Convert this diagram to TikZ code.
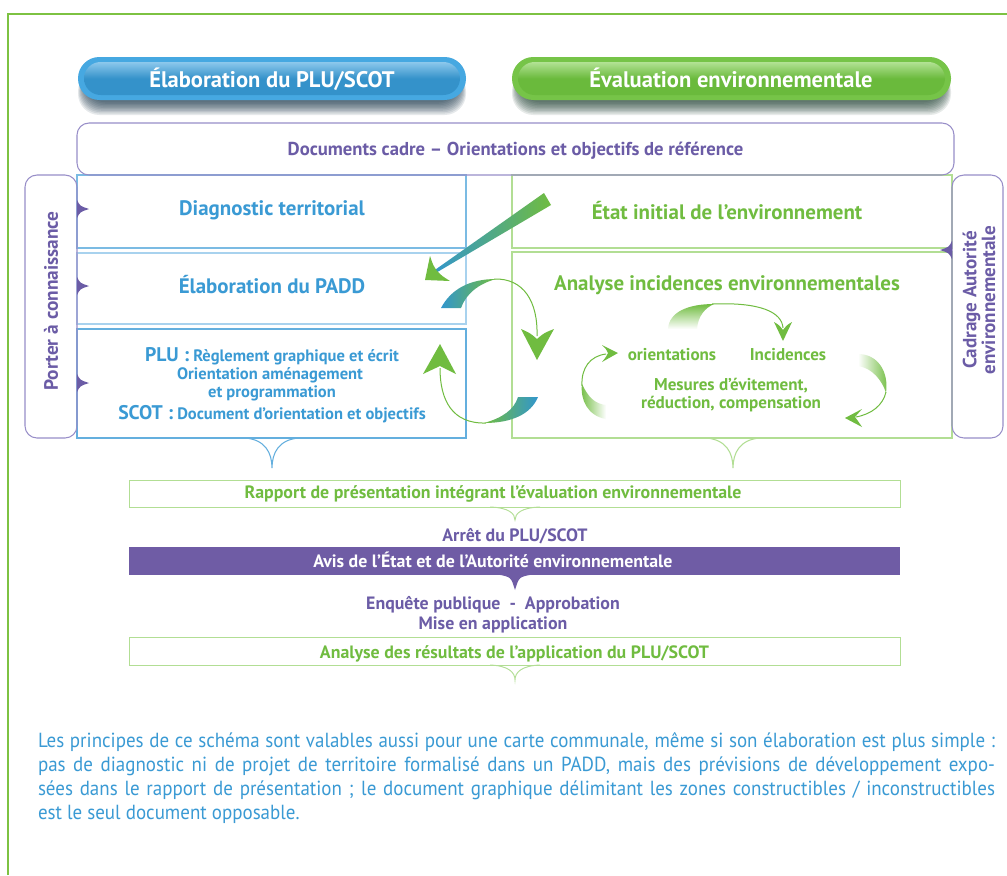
\documentclass[tikz,border=0pt]{standalone}
\usepackage{fontspec}
\setmainfont{PT Sans}
\newfontfamily\notefont[FakeStretch=0.93]{PT Sans}
\usetikzlibrary{calc}
\definecolor{cblue}{RGB}{58,154,212}
\definecolor{cgreen}{RGB}{112,188,64}
\definecolor{cpurple}{RGB}{107,92,166}
\definecolor{bandpurple}{RGB}{111,92,165}
\definecolor{lpurple}{RGB}{152,142,200}
\definecolor{lblue}{RGB}{100,175,222}
\definecolor{llblue}{RGB}{168,210,238}
\definecolor{lgreen}{RGB}{178,222,148}
\definecolor{framegreen}{RGB}{125,194,66}
\definecolor{arrowblue}{RGB}{50,150,205}
\definecolor{pillblue}{RGB}{70,168,225}
\definecolor{pillbluelight}{RGB}{140,200,236}
\definecolor{pillbluedark}{RGB}{52,146,202}
\definecolor{pillgreen}{RGB}{118,196,72}
\definecolor{pillgreenlight}{RGB}{178,226,148}
\definecolor{pillgreendark}{RGB}{106,186,60}
\definecolor{shadowblue}{RGB}{15,45,65}
\definecolor{shadowgreen}{RGB}{20,55,40}

\newcommand\notchR[2]{\fill[cpurple] (#1,{#2-9}) .. controls ({#1+3},{#2-3}) .. ({#1+12},#2) .. controls ({#1+3},{#2+3}) .. (#1,{#2+9}) -- cycle;}
\newcommand\notchL[2]{\fill[cpurple] (#1,{#2-9}) .. controls ({#1-3},{#2-3}) .. ({#1-12},#2) .. controls ({#1-3},{#2+3}) .. (#1,{#2+9}) -- cycle;}
\newcommand\mybrace[5]{\draw[#5] ({#1-#3},#2) .. controls ({#1-#3*0.25},{#2+#4*0.05}) and (#1,{#2+#4*0.5}) .. (#1,{#2+#4}) .. controls (#1,{#2+#4*0.5}) and ({#1+#3*0.25},{#2+#4*0.05}) .. ({#1+#3},#2);}
\newcommand\jline[1]{\makebox[717.75pt][s]{#1}}

\begin{document}
\begin{tikzpicture}[x=0.75pt,y=-0.75pt,
  every node/.style={inner sep=0pt,outer sep=0pt},
  hdr/.style={text=white,font=\bfseries\fontsize{16.9}{19}\selectfont,anchor=base},
  ttl/.style={font=\bfseries\fontsize{15.7}{18}\selectfont,anchor=base},
  inner/.style={font=\bfseries\fontsize{12.8}{14}\selectfont,anchor=base},
  mid/.style={font=\bfseries\fontsize{13.4}{15}\selectfont,anchor=base},
  plusmall/.style={anchor=base,text=cblue,font=\bfseries\fontsize{12.4}{14}\selectfont},
  noteline/.style={anchor=base west,text=cblue,font=\notefont\fontsize{15.3}{18}\selectfont},
  thin/.style={line width=0.75pt},
  box/.style={draw,line width=0.8pt,rectangle}]
\useasboundingbox (0,0) rectangle (1007,875);
\fill[white] (0,0) rectangle (1007,875);
\draw[framegreen,line width=1pt] (8,875) -- (8,14) -- (1007,14);

% pill shadows
\foreach \i in {1,...,10}{
  \fill[shadowblue,opacity=0.1,rounded corners=16pt] ({86-\i*0.8},70) rectangle ({458+\i*0.8},{101+\i*1.4});
  \fill[shadowgreen,opacity=0.1,rounded corners=16pt] ({520-\i*0.8},70) rectangle ({943+\i*0.8},{101+\i*1.4});
}
% pills
\fill[pillblue,rounded corners=16pt] (78,57) rectangle (466,100);
\shade[top color=pillbluelight,bottom color=pillbluedark,middle color=pillbluedark,rounded corners=12.5pt] (84,62) rectangle (460,95);
\node[hdr] (hElab) at (272,87) {Élaboration du PLU/SCOT};
\fill[pillgreen,rounded corners=16pt] (512,57) rectangle (951,100);
\shade[top color=pillgreenlight,bottom color=pillgreendark,middle color=pillgreendark,rounded corners=12.5pt] (518,62) rectangle (945,95);
\node[hdr] (hEval) at (731,87) {Évaluation environnementale};

% column boxes
\node[box,draw=lblue!85,minimum width=389*0.75pt,minimum height=73*0.75pt] (diag) at (271.5,211.5) {};
\node[box,draw=llblue,line width=1.3pt,minimum width=389*0.75pt,minimum height=71*0.75pt] (padd) at (271.5,288.5) {};
\node[box,draw=lblue,minimum width=389*0.75pt,minimum height=109*0.75pt] (plu) at (271.5,383.5) {};
\node[box,draw=lgreen,minimum width=440*0.75pt,minimum height=73*0.75pt] (etat) at (732,211.5) {};
\node[box,draw=lgreen,minimum width=440*0.75pt,minimum height=186*0.75pt] (anal) at (732,345) {};

% side boxes and cadre
\node[box,draw=lpurple,rounded corners=9pt,minimum width=52*0.75pt,minimum height=263*0.75pt] (pac) at (51,306.5) {};
\node[box,draw=lpurple,rounded corners=9pt,minimum width=51*0.75pt,minimum height=263*0.75pt] (cae) at (977.5,306.5) {};
\node[box,draw=lpurple,rounded corners=9pt,minimum width=877*0.75pt,minimum height=52*0.75pt] (cadre) at (515.5,149) {};
\node[anchor=base,text=cpurple,font=\bfseries\fontsize{14}{16}\selectfont] (tcadre) at (515.5,155) {Documents cadre – Orientations et objectifs de référence};

\node[rotate=90,text=cpurple,font=\bfseries\fontsize{14.5}{16}\selectfont] (tpac) at (51,301) {Porter à connaissance};
\node[rotate=90,text=cpurple,align=center,font=\bfseries\fontsize{14.3}{11.5}\selectfont] (tcae) at (979,300) {Cadrage Autorité\\environnementale};

% notches
\notchR{77}{209}
\notchR{77}{286}
\notchR{77}{383}
\notchL{952}{250}

% column texts
\node[ttl,text=cblue] (tdiag) at (272,215) {Diagnostic territorial};
\node[ttl,text=cblue] (tpadd) at (272,293) {Élaboration du PADD};
\node[plusmall] (tplu1) at (272,361) {{\fontsize{14.8}{16}\selectfont PLU :} Règlement graphique et écrit};
\node[plusmall] (tplu2) at (270,379) {Orientation aménagement};
\node[plusmall] (tplu3) at (272,397) {et programmation};
\node[plusmall] (tplu4) at (272,419) {{\fontsize{14.8}{16}\selectfont SCOT :} Document d’orientation et objectifs};

\node[ttl,text=cgreen] (tetat) at (727,219) {État initial de l’environnement};
\node[ttl,text=cgreen] (tanal) at (727,290) {Analyse incidences environnementales};
\node[inner,text=cgreen] (tori) at (672,360) {orientations};
\node[inner,text=cgreen] (tinc) at (788,360) {Incidences};
\node[inner,text=cgreen] (tmes1) at (731,390) {Mesures d’évitement,};
\node[inner,text=cgreen] (tmes2) at (731,408) {réduction, compensation};

% big middle arrows
\shade[left color=arrowblue,right color=cgreen] (432,272) -- (544,193) -- (551,205) -- (434,274) -- cycle;
\fill[cgreen] (425,280) -- (430,256) .. controls (433,265) .. (437,271) .. controls (442,276) .. (450,281) -- cycle;

\shade[left color=arrowblue,right color=cgreen] (441,308) .. controls (451,289) and (470,279) .. (496,279) .. controls (478,284) and (466,294) .. (461,308) -- cycle;
\draw[cgreen,thin] (494,279) .. controls (524,278) and (538,302) .. (537,336);
\fill[cgreen] (537,360) -- (521,329) .. controls (530,333) .. (537,339) .. controls (544,333) .. (554,329) -- cycle;

\shade[left color=cgreen,right color=arrowblue] (538,397) .. controls (531,414) and (512,423) .. (484,423) .. controls (502,418) and (514,410) .. (518,397) -- cycle;
\draw[cgreen,thin] (486,423) .. controls (452,424) and (440,400) .. (440,368);
\fill[cgreen] (440,344) -- (456,374) .. controls (448,370) .. (440,366) .. controls (432,370) .. (423,374) -- cycle;

% inner cycle arrows
\shade[top color=cgreen,bottom color=white] (668,329) .. controls (669,312) and (688,304) .. (714,304) .. controls (705,308) and (698,316) .. (697,329) -- cycle;
\draw[cgreen,thin] (712,304) .. controls (760,302) and (782,312) .. (783,328);
\fill[cgreen] (783,341) -- (774,322) .. controls (779,325) .. (783,330) .. controls (787,325) .. (792,322) -- cycle;

\shade[left color=white,right color=cgreen] (858,354) .. controls (878,354) and (889,372) .. (886,393) .. controls (882,380) and (872,368) .. (858,366) -- cycle;
\draw[cgreen,thin] (886,392) .. controls (883,405) and (872,414) .. (856,417);
\fill[cgreen] (845,418) -- (862,409) .. controls (858,413) .. (855,417) .. controls (858,421) .. (862,427) -- cycle;

\shade[left color=cgreen,right color=white] (606,419) .. controls (588,416) and (580,400) .. (582,384) .. controls (588,397) and (595,404) .. (606,405) -- cycle;
\draw[cgreen,thin] (582,386) .. controls (581,368) and (590,356) .. (606,354);
\fill[cgreen] (618,353) -- (602,345) .. controls (606,349) .. (608,353) .. controls (606,357) .. (602,362) -- cycle;

% braces under columns
\mybrace{272}{438}{27}{30}{lblue,line width=0.8pt}
\mybrace{733}{438}{27}{30}{lgreen,line width=0.8pt}

% lower part
\node[box,draw=lgreen,line width=0.7pt,minimum width=771*0.75pt,minimum height=27*0.75pt] (rapport) at (514.5,493.5) {};
\node[mid,text=cgreen] (trapport) at (493,498) {Rapport de présentation intégrant l’évaluation environnementale};
\mybrace{515}{507}{25}{13}{lgreen,line width=0.7pt}
\node[mid,text=cpurple] (tarret) at (515,541) {Arrêt du PLU/SCOT};
\node[rectangle,fill=bandpurple,minimum width=771*0.75pt,minimum height=28*0.75pt] (avis) at (514.5,561) {};
\node[mid,text=white] (tavis) at (493,567) {Avis de l’État et de l’Autorité environnementale};
\fill[bandpurple] (498,574.5) .. controls (511,577) .. (515,590) .. controls (519,577) .. (532,574.5) -- cycle;
\node[mid,text=cpurple] (tenq) at (493,609) {Enquête publique \ - \ Approbation};
\node[mid,text=cpurple] (tmise) at (493,629) {Mise en application};
\node[box,draw=lgreen,line width=0.7pt,minimum width=771*0.75pt,minimum height=28*0.75pt] (result) at (514.5,651) {};
\node[mid,text=cgreen] (tresult) at (514.5,658) {Analyse des résultats de l’application du PLU/SCOT};
\mybrace{515}{665}{25}{15}{lgreen,line width=0.7pt}

% note
\node[noteline] (note1) at (38,747) {\jline{Les principes de ce schéma sont valables aussi pour une carte communale, même si son élaboration est plus simple :}};
\node[noteline] (note2) at (38,771) {\jline{pas de diagnostic ni de projet de territoire formalisé dans un PADD, mais des prévisions de développement expo-}};
\node[noteline] (note3) at (38,795) {\jline{sées dans le rapport de présentation ; le document graphique délimitant les zones constructibles / inconstructibles}};
\node[noteline] (note4) at (38,819) {est le seul document opposable.};
\end{tikzpicture}
\end{document}
